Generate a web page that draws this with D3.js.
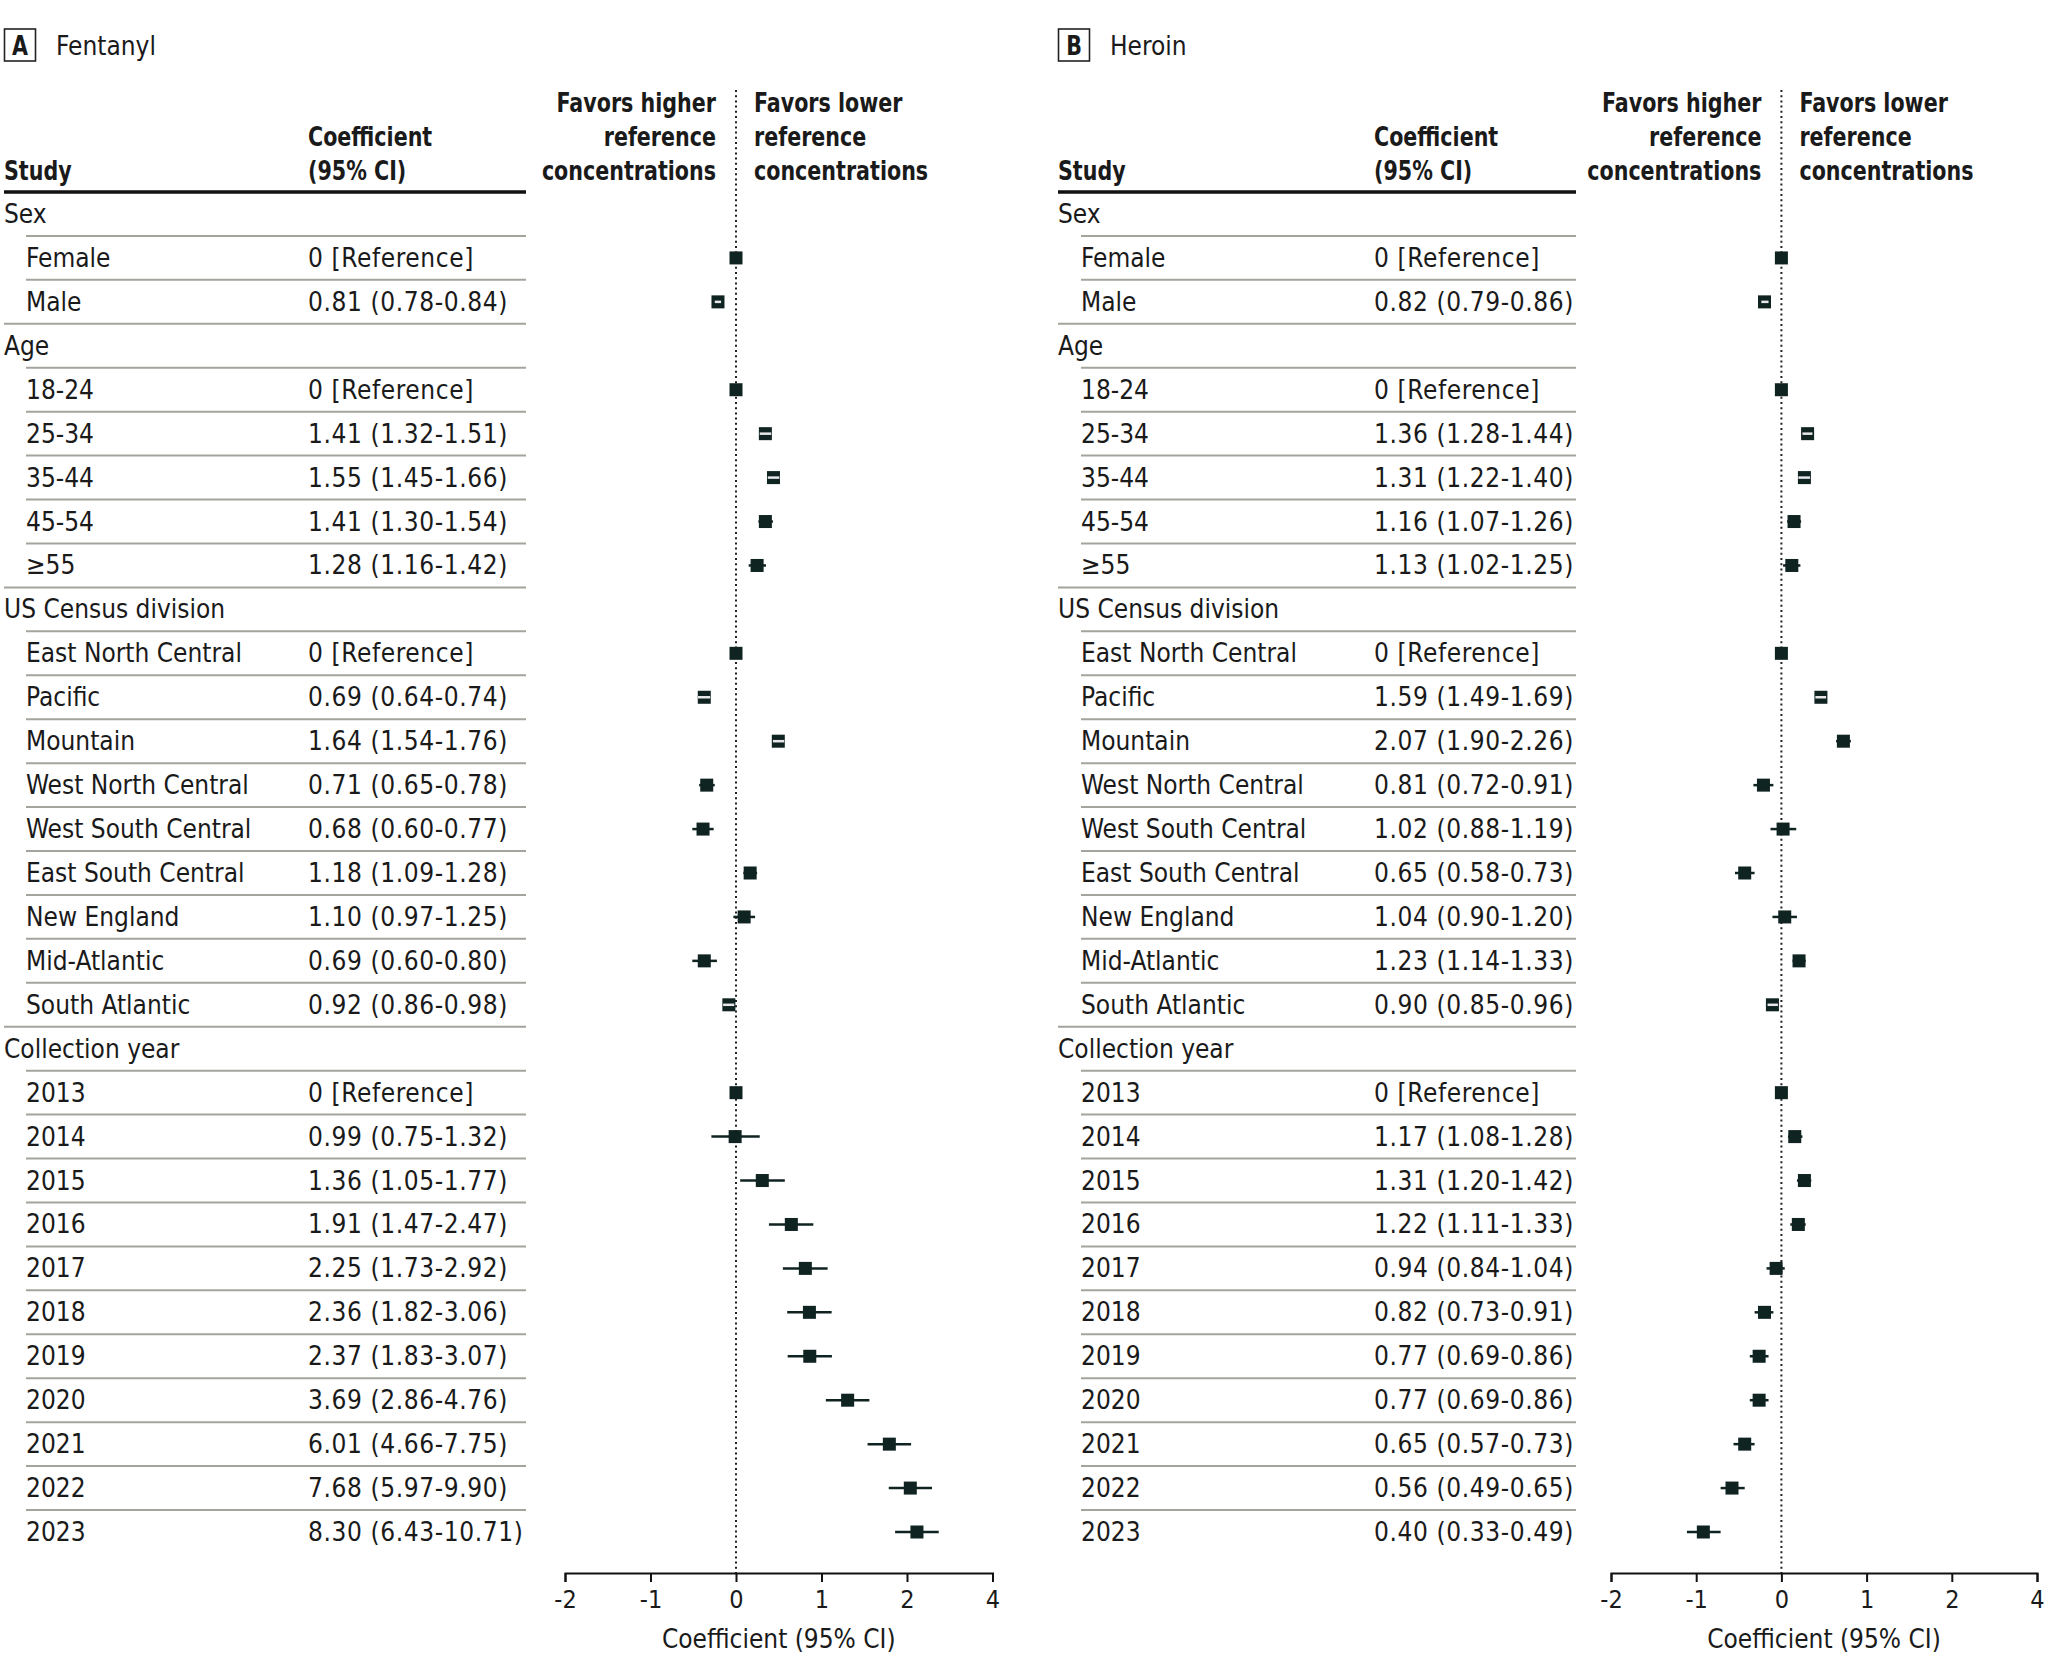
<!DOCTYPE html>
<html>
<head>
<meta charset="utf-8">
<script src="https://cdn.jsdelivr.net/npm/d3@7"></script>
<style>
  body { margin: 0; background: #fff; }
  svg { display: block; }
  text { font-family: "DejaVu Sans Condensed", "DejaVu Sans", sans-serif; fill: #1a1a1a; }
  text.hd { font-weight: bold; }
</style>
</head>
<body>
<div class="chart"></div>
<script>
const width = 2048;
const height = 1675;

const groupNames = ["Sex", "Age", "US Census division", "Collection year"];
const groupLevels = [
  ["Female", "Male"],
  ["18-24", "25-34", "35-44", "45-54", "≥55"],
  ["East North Central", "Pacific", "Mountain", "West North Central", "West South Central",
   "East South Central", "New England", "Mid-Atlantic", "South Atlantic"],
  ["2013", "2014", "2015", "2016", "2017", "2018", "2019", "2020", "2021", "2022", "2023"],
];

// null = reference level
const fentanylCoef = [null, 0.81, null, 1.41, 1.55, 1.41, 1.28, null, 0.69, 1.64, 0.71, 0.68, 1.18, 1.10, 0.69, 0.92,
  null, 0.99, 1.36, 1.91, 2.25, 2.36, 2.37, 3.69, 6.01, 7.68, 8.30];
const fentanylLower = [null, 0.78, null, 1.32, 1.45, 1.30, 1.16, null, 0.64, 1.54, 0.65, 0.60, 1.09, 0.97, 0.60, 0.86,
  null, 0.75, 1.05, 1.47, 1.73, 1.82, 1.83, 2.86, 4.66, 5.97, 6.43];
const fentanylUpper = [null, 0.84, null, 1.51, 1.66, 1.54, 1.42, null, 0.74, 1.76, 0.78, 0.77, 1.28, 1.25, 0.80, 0.98,
  null, 1.32, 1.77, 2.47, 2.92, 3.06, 3.07, 4.76, 7.75, 9.90, 10.71];

const heroinCoef = [null, 0.82, null, 1.36, 1.31, 1.16, 1.13, null, 1.59, 2.07, 0.81, 1.02, 0.65, 1.04, 1.23, 0.90,
  null, 1.17, 1.31, 1.22, 0.94, 0.82, 0.77, 0.77, 0.65, 0.56, 0.40];
const heroinLower = [null, 0.79, null, 1.28, 1.22, 1.07, 1.02, null, 1.49, 1.90, 0.72, 0.88, 0.58, 0.90, 1.14, 0.85,
  null, 1.08, 1.20, 1.11, 0.84, 0.73, 0.69, 0.69, 0.57, 0.49, 0.33];
const heroinUpper = [null, 0.86, null, 1.44, 1.40, 1.26, 1.25, null, 1.69, 2.26, 0.91, 1.19, 0.73, 1.20, 1.33, 0.96,
  null, 1.28, 1.42, 1.33, 1.04, 0.91, 0.86, 0.86, 0.73, 0.65, 0.49];

// axis positions are on the log scale, labels as printed in the original
const tickValues = [-2, -1, 0, 1, 2, 3];
const tickLabels = ["-2", "-1", "0", "1", "2", "4"];

const markColor = "#0f2321";
const ruleColor = "#a4a49e";

// flatten groups into table rows
var rows = [];
var levelIdx = 0;
groupNames.forEach((g, gi) => {
  rows.push({ label: g, header: true });
  groupLevels[gi].forEach((lv) => {
    rows.push({ label: lv, header: false, k: levelIdx });
    levelIdx++;
  });
});

const yScale = d3.scaleLinear().domain([0, rows.length - 1]).range([214, 1532]);

let svg = d3.select(".chart").append("svg").attr("width", width).attr("height", height);

// bold headings are set in a narrower cut, so squeeze them horizontally
var boldText = (g, t, x, y, anchor) => {
  g.append("g")
    .attr("transform", "translate(" + x + "," + y + ") scale(0.85,1)")
    .append("text").attr("class", "hd").text(t)
    .attr("text-anchor", anchor || "start")
    .attr("font-size", 27);
};

var drawPanel = (p) => {
  let g = svg.append("g");
  let xScale = d3.scaleLinear().domain([-2, 3]).range(p.axis);
  let zero = xScale(0);

  // panel label
  g.append("rect").attr("x", p.x0 + 0.5).attr("y", 29).attr("width", 31).attr("height", 32)
    .attr("fill", "none").attr("stroke", "#222").attr("stroke-width", 1.6);
  boldText(g, p.letter, p.x0 + 16, 55, "middle");
  g.append("text").text(p.title).attr("x", p.x0 + 52).attr("y", 55).attr("font-size", 26);

  // column headers
  boldText(g, "Study", p.x0, 180);
  boldText(g, "Coefficient", p.coefX, 146);
  boldText(g, "(95% CI)", p.coefX, 180);
  ["Favors higher", "reference", "concentrations"].forEach((t, i) => {
    boldText(g, t, zero - 20, 112 + i * 34, "end");
  });
  ["Favors lower", "reference", "concentrations"].forEach((t, i) => {
    boldText(g, t, zero + 18, 112 + i * 34);
  });

  // rules
  g.append("line").attr("x1", p.x0).attr("x2", p.lineEnd)
    .attr("y1", yScale(0) - 22).attr("y2", yScale(0) - 22)
    .attr("stroke", "#111").attr("stroke-width", 3.5);
  g.selectAll(".rule").data(rows.slice(1)).enter().append("line")
    .attr("class", "rule")
    .attr("x1", (d) => (d.header ? p.x0 : p.indent))
    .attr("x2", p.lineEnd)
    .attr("y1", (d, i) => yScale(i + 1) - 22)
    .attr("y2", (d, i) => yScale(i + 1) - 22)
    .attr("stroke", ruleColor).attr("stroke-width", 2);

  // row labels
  g.selectAll(".lab").data(rows).enter().append("text")
    .attr("class", "lab")
    .text((d) => d.label)
    .attr("x", (d) => (d.header ? p.x0 : p.indent))
    .attr("y", (d, i) => yScale(i) + 9)
    .attr("font-size", 26);

  let levels = rows.map((d, i) => Object.assign({ i: i }, d)).filter((d) => !d.header);
  let fmt = d3.format(".2f");
  g.selectAll(".coef").data(levels).enter().append("text")
    .attr("class", "coef")
    .text((d) => {
      let c = p.coef[d.k];
      if (c === null) return "0 [Reference]";
      return fmt(c) + " (" + fmt(p.lower[d.k]) + "-" + fmt(p.upper[d.k]) + ")";
    })
    .attr("x", p.coefX)
    .attr("y", (d) => yScale(d.i) + 9)
    .attr("font-size", 26)
    .attr("letter-spacing", 0.6);

  // zero line
  g.append("line").attr("x1", zero).attr("x2", zero).attr("y1", 90).attr("y2", 1573)
    .attr("stroke", "#222").attr("stroke-width", 2).attr("stroke-dasharray", "2,3.2");

  // CI lines
  let withCI = levels.filter((d) => p.coef[d.k] !== null);
  g.selectAll(".ci").data(withCI).enter().append("line")
    .attr("class", "ci")
    .attr("x1", (d) => xScale(Math.log(p.lower[d.k])))
    .attr("x2", (d) => xScale(Math.log(p.upper[d.k])))
    .attr("y1", (d) => yScale(d.i)).attr("y2", (d) => yScale(d.i))
    .attr("stroke", markColor).attr("stroke-width", 2.5);

  // markers
  const s = 13;
  g.selectAll(".mk").data(levels).enter().append("rect")
    .attr("class", "mk")
    .attr("x", (d) => xScale(p.coef[d.k] === null ? 0 : Math.log(p.coef[d.k])) - s / 2)
    .attr("y", (d) => yScale(d.i) - s / 2)
    .attr("width", s).attr("height", s)
    .attr("fill", markColor);

  // CI narrower than the marker shows as a light dash inside it
  let inner = withCI.filter((d) => {
    let c = xScale(Math.log(p.coef[d.k]));
    return xScale(Math.log(p.lower[d.k])) > c - s / 2 && xScale(Math.log(p.upper[d.k])) < c + s / 2;
  });
  g.selectAll(".inner").data(inner).enter().append("line")
    .attr("class", "inner")
    .attr("x1", (d) => xScale(Math.log(p.lower[d.k])))
    .attr("x2", (d) => xScale(Math.log(p.upper[d.k])))
    .attr("y1", (d) => yScale(d.i)).attr("y2", (d) => yScale(d.i))
    .attr("stroke", "#e8e8e8").attr("stroke-width", 2.5);

  // axis
  let xAxis = d3.axisBottom(xScale).tickValues(tickValues)
    .tickFormat((d, i) => tickLabels[i]).tickSize(9).tickPadding(8);
  let ax = g.append("g").attr("transform", "translate(0,1573)").call(xAxis);
  ax.select(".domain").attr("stroke", "#111").attr("stroke-width", 2);
  ax.selectAll(".tick line").attr("stroke", "#111").attr("stroke-width", 2);
  ax.selectAll(".tick text").attr("font-size", 25)
    .style("font-family", '"DejaVu Sans Condensed", sans-serif').attr("fill", "#1a1a1a");
  g.append("text").text("Coefficient (95% CI)")
    .attr("x", (p.axis[0] + p.axis[1]) / 2).attr("y", 1648)
    .attr("text-anchor", "middle").attr("font-size", 26);
};

drawPanel({
  letter: "A", title: "Fentanyl",
  x0: 4, indent: 26, coefX: 308, lineEnd: 526, axis: [565, 992.5],
  coef: fentanylCoef, lower: fentanylLower, upper: fentanylUpper,
});
drawPanel({
  letter: "B", title: "Heroin",
  x0: 1058, indent: 1081, coefX: 1374, lineEnd: 1576, axis: [1611, 2037],
  coef: heroinCoef, lower: heroinLower, upper: heroinUpper,
});
</script>
</body>
</html>
